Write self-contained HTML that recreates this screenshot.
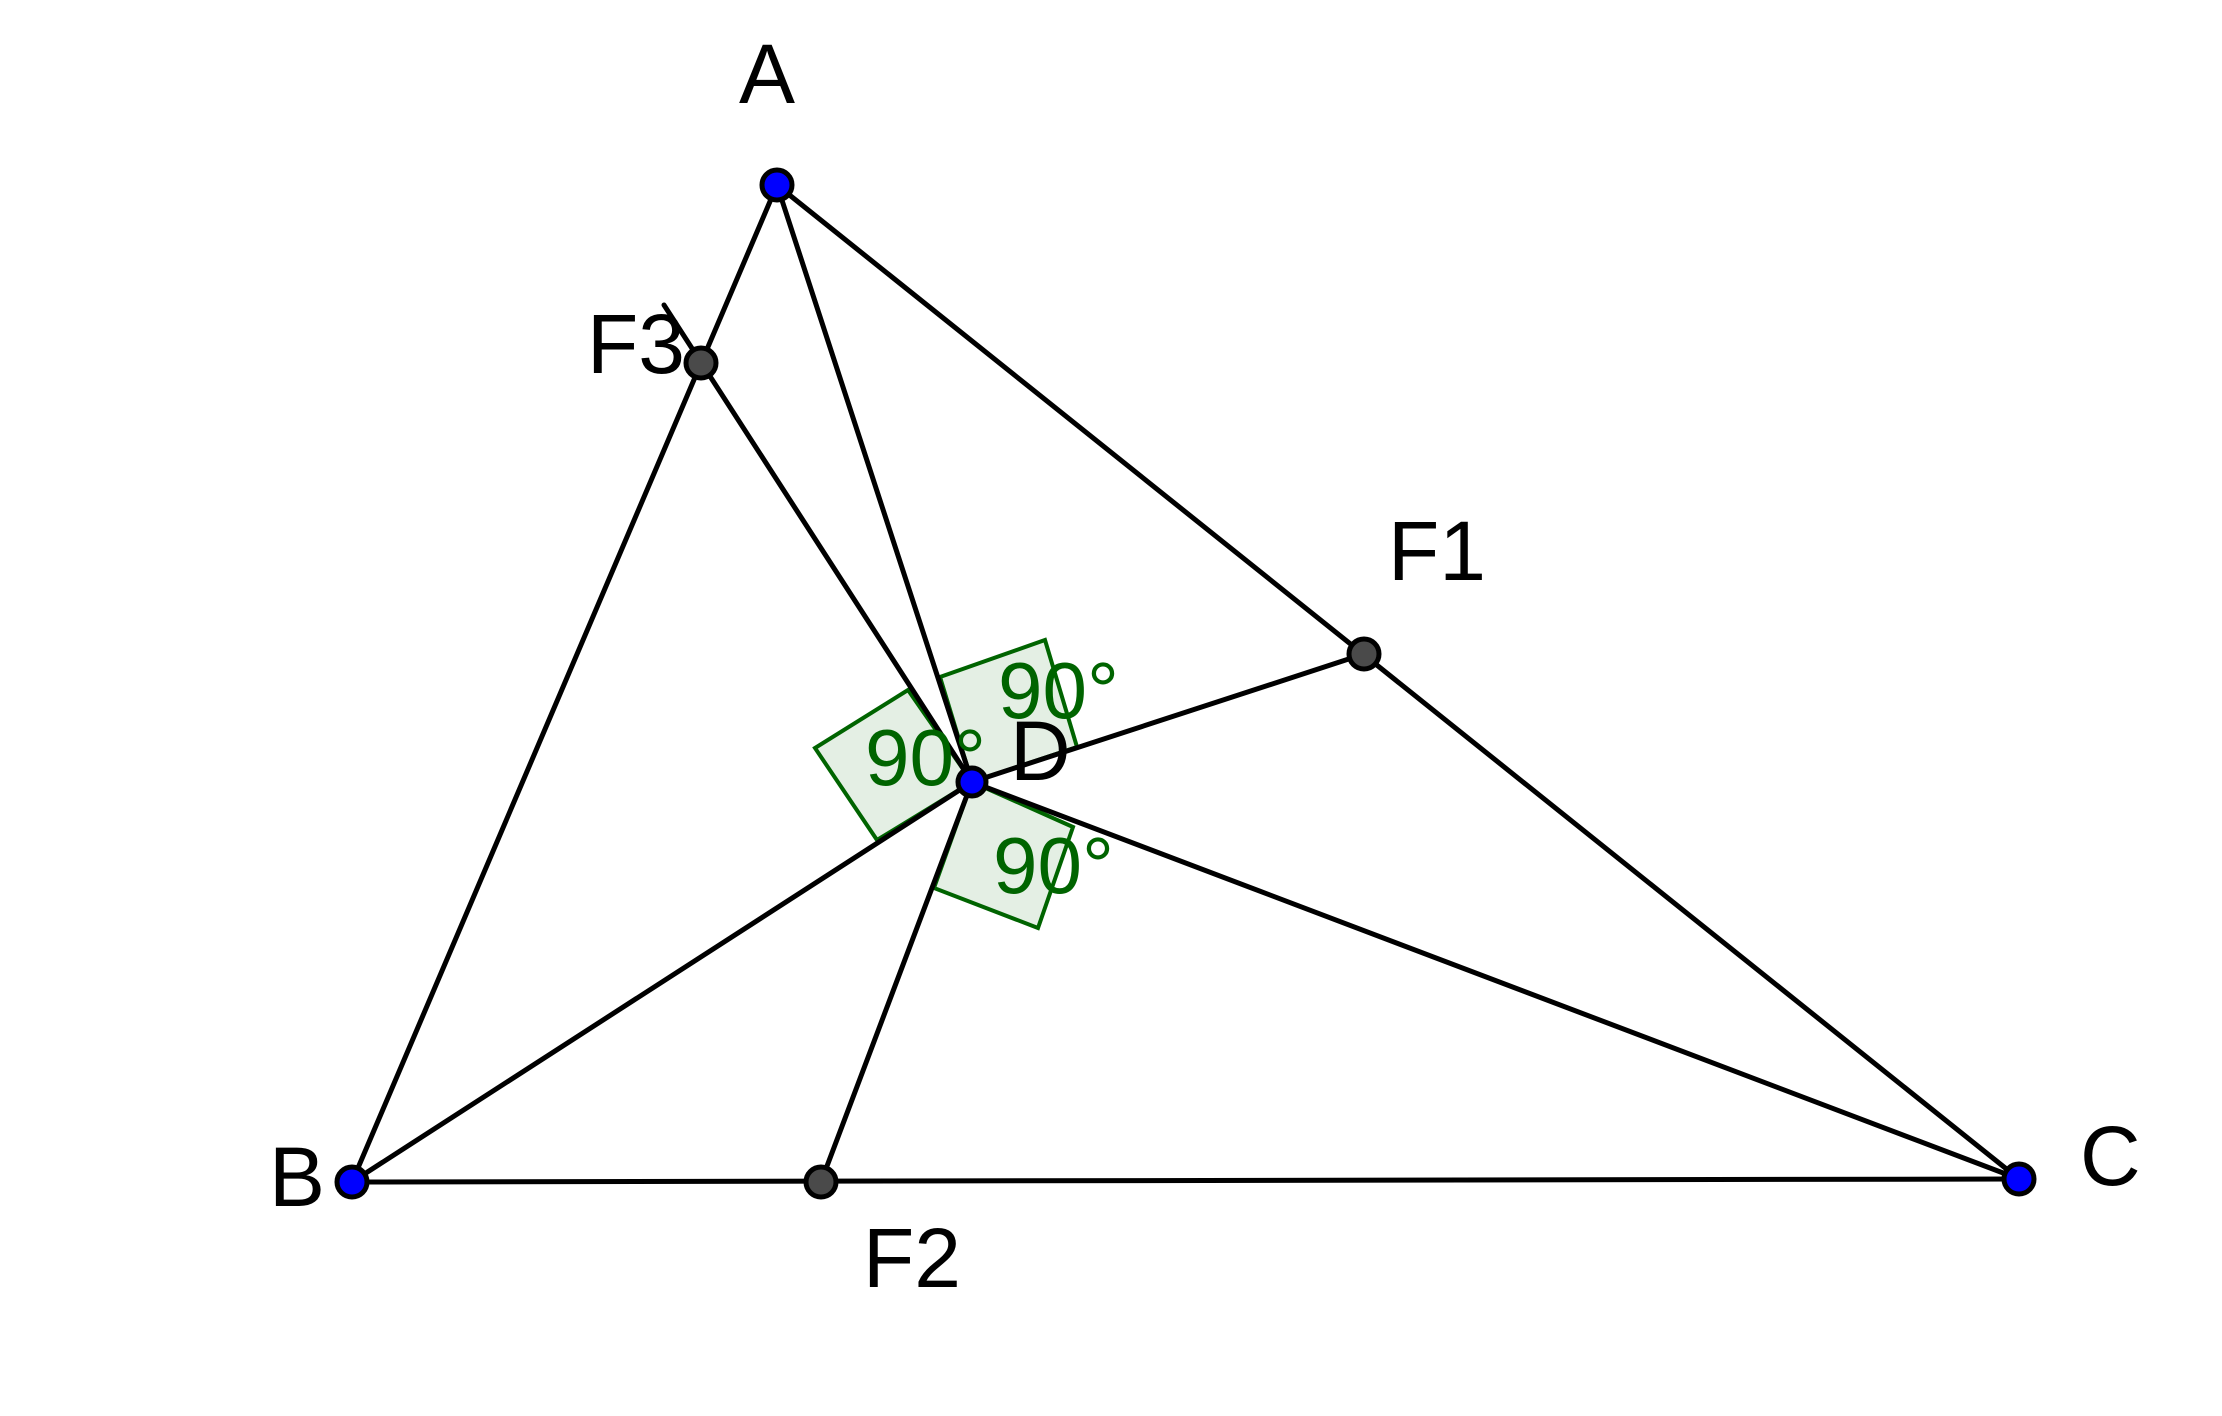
<!DOCTYPE html>
<html><head><meta charset="utf-8"><style>
html,body{margin:0;padding:0;background:#fff;}
svg{display:block;}
text{font-family:"Liberation Sans",sans-serif;}
</style></head><body>
<svg width="2222" height="1416" viewBox="0 0 2222 1416" xmlns="http://www.w3.org/2000/svg">
<rect width="2222" height="1416" fill="#fff"/>
<g fill="#e4efe4" stroke="#006400" stroke-width="4" stroke-linejoin="miter">
<polygon points="972,782 908,690 815,748 877,840"/>
<polygon points="972,782 940,677 1045,640 1077,747"/>
<polygon points="972,782 1073,827 1038,928 934,888"/>
</g>
<g stroke="#000" stroke-width="5" stroke-linecap="round" fill="none">
<line x1="777" y1="185" x2="352" y2="1182"/>
<line x1="352" y1="1182" x2="2019" y2="1179"/>
<line x1="2019" y1="1179" x2="777" y2="185"/>
<line x1="777" y1="185" x2="972" y2="782"/>
<line x1="352" y1="1182" x2="972" y2="782"/>
<line x1="2019" y1="1179" x2="972" y2="782"/>
<line x1="972" y1="782" x2="1364" y2="654"/>
<line x1="972" y1="782" x2="821" y2="1182"/>
<line x1="972" y1="782" x2="664" y2="305"/>
</g>
<g font-size="80" fill="#006400">
<text x="865" y="785">90°</text>
<text x="998" y="718">90°</text>
<text x="993" y="893">90°</text>
</g>
<g stroke="#000" stroke-width="5">
<circle cx="777" cy="185" r="15" fill="#0000ff"/>
<circle cx="352" cy="1182" r="15" fill="#0000ff"/>
<circle cx="2019" cy="1179" r="15" fill="#0000ff"/>
<circle cx="972" cy="782" r="14" fill="#0000ff"/>
<circle cx="1364" cy="654" r="15" fill="#4a4a4a"/>
<circle cx="821" cy="1182" r="15" fill="#4a4a4a"/>
<circle cx="701" cy="363" r="15" fill="#4a4a4a"/>
</g>
<g font-size="84" fill="#000">
<text x="739" y="103">A</text>
<text x="269" y="1206">B</text>
<text x="2080" y="1185">C</text>
<text x="1010" y="780">D</text>
<text x="1388" y="580">F1</text>
<text x="863" y="1287">F2</text>
<text x="587" y="373">F3</text>
</g>
</svg>
</body></html>
